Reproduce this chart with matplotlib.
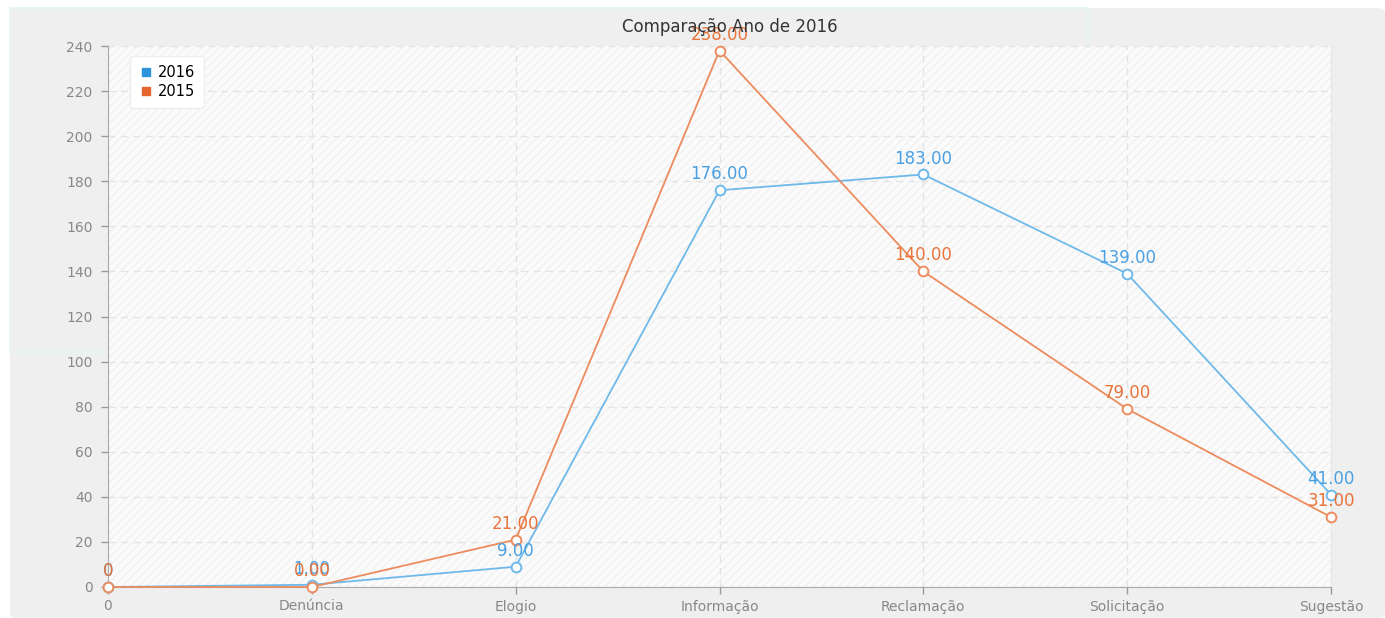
import matplotlib.pyplot as plt
from matplotlib.patches import FancyBboxPatch, Rectangle
from matplotlib.lines import Line2D

categories = ["0", "Denúncia", "Elogio", "Informação", "Reclamação", "Solicitação", "Sugestão"]
vals_2016 = [0, 1, 9, 176, 183, 139, 41]
vals_2015 = [0, 0, 21, 238, 140, 79, 31]
labels_2016 = ["0", "1.00", "9.00", "176.00", "183.00", "139.00", "41.00"]
labels_2015 = ["0", "0.00", "21.00", "238.00", "140.00", "79.00", "31.00"]
y_ticks = list(range(0, 241, 20))

blue_line = "#6fb9ea"
orange_line = "#ec8c5e"
blue_text = "#4aa0e2"
orange_text = "#e8743b"

fig = plt.figure(figsize=(13.85, 6.18), dpi=100)
fig.patch.set_facecolor("white")

# gray panel behind the chart
panel = FancyBboxPatch((10 / 1385, 0), 1 - 10 / 1385, 1 - 8 / 618,
                       boxstyle="round,pad=0,rounding_size=0.006",
                       transform=fig.transFigure, facecolor="#efefef",
                       edgecolor="none", zorder=-10)
fig.patches.append(panel)
# faint teal frame seen in the reference
fig.patches.append(Rectangle((10 / 1385, 1 - 352 / 618), 1078 / 1385, 344 / 618,
                             transform=fig.transFigure, facecolor="none",
                             edgecolor="#e3f6f4", lw=1.2, zorder=-9))

ax = fig.add_axes([108 / 1385, 1 - 587 / 618, (1331 - 108) / 1385, (587 - 46) / 618])
ax.set_facecolor("#fbfbfb")
ax.add_patch(Rectangle((0, 0), 1, 1, transform=ax.transAxes, facecolor="none",
                       edgecolor="#f1f1f1", hatch="////", lw=0, zorder=0))

x = list(range(len(categories)))
ax.plot(x, vals_2016, color=blue_line, lw=1.3, marker="o", ms=7,
        mfc="white", mec=blue_line, mew=1.4, zorder=4, clip_on=False)
ax.plot(x, vals_2015, color=orange_line, lw=1.3, marker="o", ms=7,
        mfc="white", mec=orange_line, mew=1.4, zorder=5, clip_on=False)

for xi, v, t in zip(x, vals_2016, labels_2016):
    ax.annotate(t, (xi, v), xytext=(0, 5), textcoords="offset points",
                ha="center", va="bottom", color=blue_text, fontsize=12, zorder=6,
                annotation_clip=False)
for xi, v, t in zip(x, vals_2015, labels_2015):
    ax.annotate(t, (xi, v), xytext=(0, 5), textcoords="offset points",
                ha="center", va="bottom", color=orange_text, fontsize=12, zorder=6,
                annotation_clip=False)

ax.set_xlim(0, len(categories) - 1)
ax.set_ylim(0, 240)
ax.set_xticks(x)
ax.set_xticklabels(categories)
ax.set_yticks(y_ticks)
ax.tick_params(colors="#999999", labelcolor="#888888", labelsize=10, length=5, width=1)
ax.tick_params(axis="x", pad=4)
ax.tick_params(axis="y", pad=6)

ax.grid(True, color="#e3e3e3", ls=(0, (5, 4)), lw=1)
ax.set_axisbelow(True)
for side in ["top"]:
    ax.spines[side].set_visible(False)
ax.spines["right"].set_color("#e6e6e6")
ax.spines["left"].set_color("#aaaaaa")
ax.spines["bottom"].set_color("#aaaaaa")

fig.text(0.5 + 37 / 1385, 1 - 27 / 618, "Comparação Ano de 2016", ha="center",
         va="center", fontsize=12, color="#333333")

handles = [Line2D([], [], ls="none", marker="s", ms=6, color="#2e93dc", label="2016"),
           Line2D([], [], ls="none", marker="s", ms=6, color="#e4652e", label="2015")]
leg = ax.legend(handles=handles, loc="upper left", bbox_to_anchor=(0.012, 0.995),
                frameon=True, fontsize=10.5, handletextpad=0.3, borderpad=0.6,
                labelspacing=0.3, handlelength=1.0, fancybox=True)
leg.get_frame().set_facecolor("white")
leg.get_frame().set_edgecolor("#eeeeee")
leg.get_frame().set_alpha(1)

fig.savefig("out.png", dpi=100)
